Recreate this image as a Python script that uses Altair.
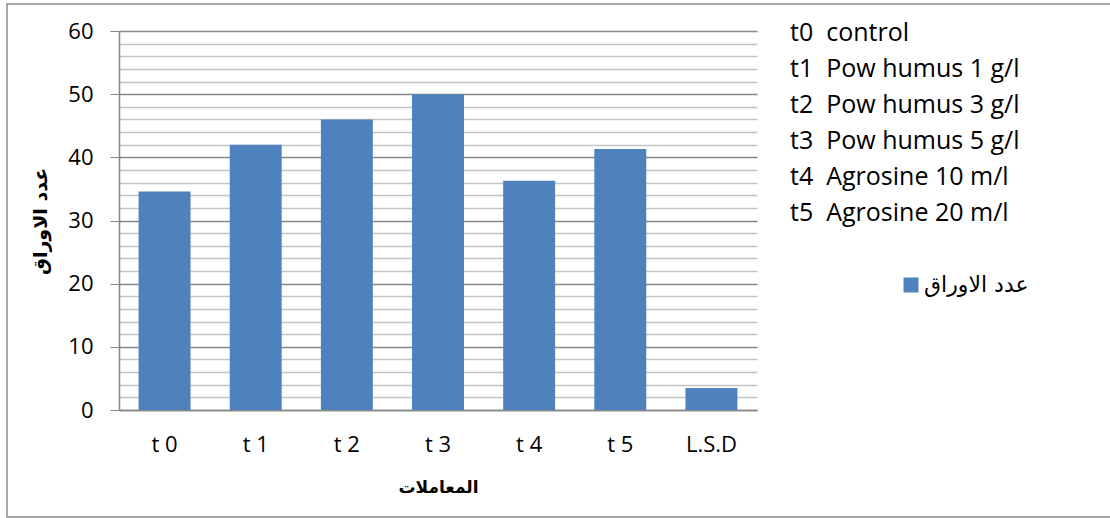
import altair as alt
import pandas as pd

# Number of leaves per treatment
treatments = ["t 0", "t 1", "t 2", "t 3", "t 4", "t 5", "L.S.D"]
leaves = [34.6, 42.0, 46.0, 50.0, 36.3, 41.3, 3.5]
series_name = "عدد الاوراق"

# Treatment key shown beside the plot (code, description)
key_codes = ["t0", "t1", "t2", "t3", "t4", "t5"]
key_desc = [
    "control",
    "Pow humus 1 g/l",
    "Pow humus 3 g/l",
    "Pow humus 5 g/l",
    "Agrosine 10 m/l",
    "Agrosine 20 m/l",
]

y_ticks = list(range(0, 61, 2))

FONT = "Open Sans"
AR_FONT = "DejaVu Sans"
MAJOR = "#878787"
MINOR = "#C4C4C4"

df = pd.DataFrame({"treatment": treatments, "leaves": leaves, "series": series_name})

bars = alt.Chart(df).mark_bar(color="#4F81BD").encode(
    x=alt.X(
        "treatment:N",
        sort=treatments,
        scale=alt.Scale(paddingInner=0.43, paddingOuter=0.215),
        axis=alt.Axis(
            title="المعاملات",
            titleFont=AR_FONT,
            titleFontSize=17,
            titleFontWeight="bold",
            titleColor="black",
            titleX=319,
            titleY=77,
            titleBaseline="middle",
            labelAngle=0,
            labelFont=FONT,
            labelFontSize=22,
            labelColor="black",
            labelPadding=24,
            ticks=False,
            domainColor=MAJOR,
            domainWidth=1.5,
        ),
    ),
    y=alt.Y(
        "leaves:Q",
        scale=alt.Scale(domain=[0, 60], nice=False),
        axis=alt.Axis(
            title=series_name,
            titleFont=AR_FONT,
            titleFontSize=19,
            titleFontWeight="bold",
            titleColor="black",
            titleX=-79,
            titleY=190,
            titleAngle=-90,
            titleAlign="center",
            titleBaseline="middle",
            values=y_ticks,
            labelExpr="datum.value % 10 === 0 ? datum.label : ''",
            labelFont=FONT,
            labelFontSize=22,
            labelColor="black",
            labelPadding=17,
            tickSize=9,
            tickColor=MAJOR,
            tickOpacity=alt.condition("datum.value % 10 === 0", alt.value(1), alt.value(0)),
            grid=True,
            gridColor=alt.condition("datum.value % 10 === 0", alt.value(MAJOR), alt.value(MINOR)),
            gridWidth=1.5,
            domainColor=MAJOR,
            domainWidth=1.5,
        ),
    ),
    color=alt.Color(
        "series:N",
        scale=alt.Scale(range=["#4F81BD"]),
        legend=alt.Legend(
            title=None,
            orient="none",
            legendX=781,
            legendY=243,
            symbolType="square",
            symbolSize=225,
            symbolStrokeWidth=0,
            labelFont=AR_FONT,
            labelFontSize=22,
            labelColor="black",
            labelOffset=2,
        ),
    ),
)

key_text = "\n".join(f"{c}\u00a0\u00a0{d}" for c, d in zip(key_codes, key_desc))
key_df = pd.DataFrame({"note": [key_text]})
key = alt.Chart(key_df).mark_text(
    align="left",
    baseline="middle",
    lineBreak="\n",
    lineHeight=36,
    font=FONT,
    fontSize=25,
    color="black",
).encode(text="note:N", x=alt.value(671), y=alt.value(2))

frame_df = pd.DataFrame({"frame": [1]})
frame = alt.Chart(frame_df).mark_rect(
    fill=None, stroke="#8C8C8C", strokeWidth=1.5
).encode(
    x=alt.value(-112), x2=alt.value(1000), y=alt.value(-27), y2=alt.value(486)
)

chart = alt.layer(frame, bars, key).properties(
    width=638,
    height=379,
    autosize=alt.AutoSizeParams(type="none"),
    padding={"left": 119, "top": 31, "right": 353, "bottom": 108},
    background="white",
).configure_view(stroke=None)

chart.save("out.html", embed_options={"renderer": "svg", "actions": False})
